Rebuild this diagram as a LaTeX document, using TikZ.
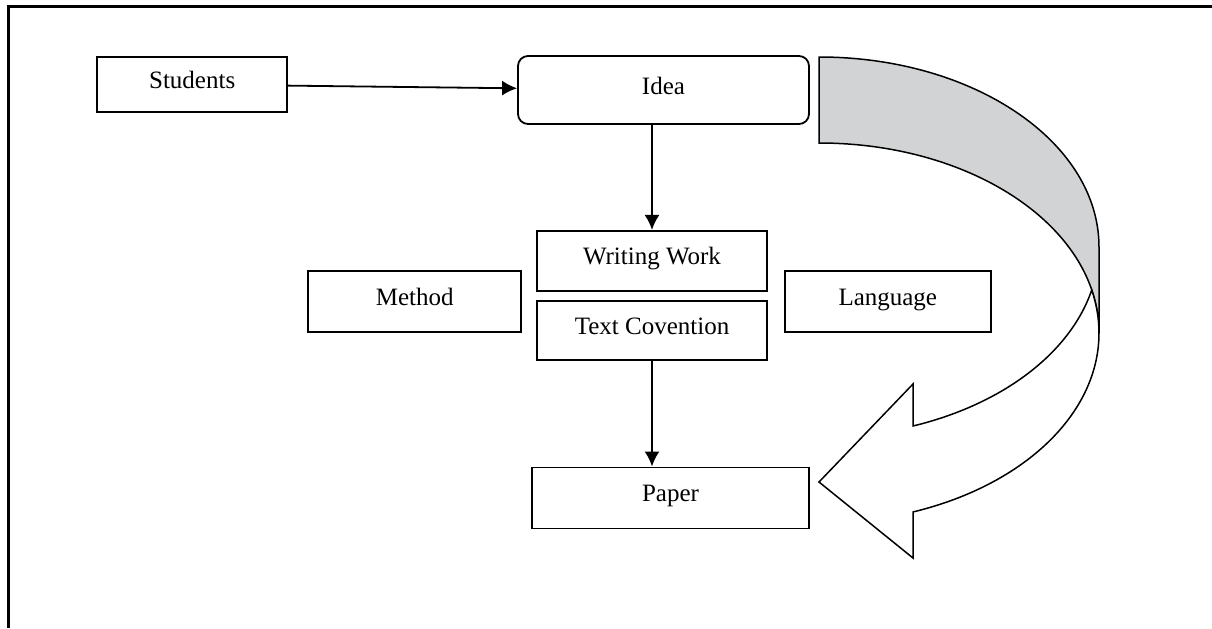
\documentclass[tikz,border=0pt]{standalone}
\usepackage{fontspec}
\setmainfont{Liberation Serif}
\usetikzlibrary{positioning,arrows.meta}
\definecolor{bandgray}{RGB}{209,211,212}

\begin{document}
\begin{tikzpicture}[x=0.5pt,y=0.5pt]
      \tikzstyle{box}=[rectangle, draw=black, line width=0.9pt, inner sep=0pt, text height=6.5pt, text depth=2.5pt, font=\fontsize{12.5}{15}\selectfont]
      \tikzstyle{roundbox}=[box, rounded corners=5pt]
      \tikzstyle{connect}=[-{Latex[length=7.5pt,width=7.5pt]}, line width=0.9pt]
      \tikzstyle{frame}=[line width=1.5pt]
      \tikzstyle{band}=[draw=black, line width=0.75pt]

      \useasboundingbox (0,0) rectangle (1212,-628);
      \draw[frame] (1212,-6.5) -- (8.5,-6.5) -- (8.5,-628);

      \node[roundbox, minimum width=145.5pt, minimum height=34pt] (idea) at (663.5,-90) {Idea};
      \node[box, minimum width=95pt, minimum height=27.5pt] (students) [left=114.5pt of idea, yshift=2.75pt] {Students};
      \node[box, minimum width=115pt, minimum height=30pt] (writing) [below=52.5pt of idea, xshift=-5.75pt] {Writing Work};
      \node[box, minimum width=115pt, minimum height=29.5pt] (textconv) [below=4pt of writing] {Text Covention};
      \node[box, minimum width=106.5pt, minimum height=30.5pt] (method) [left=7pt of writing.south west, yshift=-4.75pt] {Method};
      \node[box, minimum width=103pt, minimum height=30.5pt] (language) [right=8pt of writing.south east, yshift=-4.75pt] {Language};
      \node[box, minimum width=138.5pt, minimum height=30.5pt] (paper) [below=53pt of textconv, xshift=9.25pt] {Paper};

      \path (students) edge [connect] (idea);
      \path (idea.south -| writing.north) edge [connect] (writing);
      \path (textconv) edge [connect] (textconv |- paper.north);

      % curved arrow: back band, then front with head
      \filldraw[band, fill=bandgray] (819,-57)
        arc[start angle=90, end angle=0, x radius=140pt, y radius=95pt] -- (1099,-333)
        arc[start angle=0, end angle=90, x radius=140pt, y radius=95pt] -- cycle;
      \filldraw[band, fill=white] (1099,-333)
        arc[start angle=0, end angle=-70.38, x radius=140pt, y radius=95pt]
        -- (913,-558) -- (819,-482) -- (913,-384) -- (913,-426)
        arc[start angle=-70.38, end angle=-13.08, x radius=140pt, y radius=95pt]
        arc[start angle=13.08, end angle=0, x radius=140pt, y radius=95pt] -- cycle;
\end{tikzpicture}
\end{document}
